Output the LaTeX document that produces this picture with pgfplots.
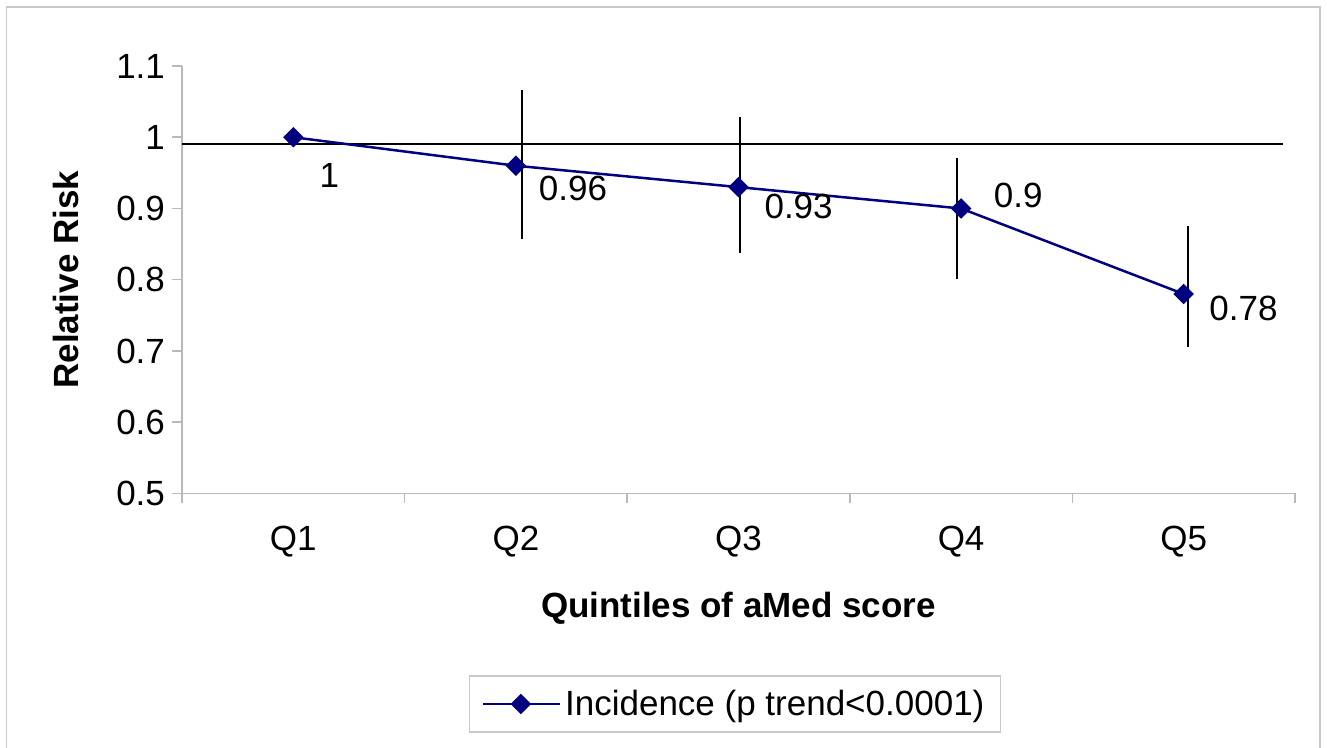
\documentclass[border=0pt]{standalone}
\usepackage{fontspec}
\setmainfont{Liberation Sans}
\usepackage{pgfplots}
\pgfplotsset{compat=1.18}
\usepackage{pgfplotstable}
\definecolor{navy}{RGB}{0,0,128}
\definecolor{framegray}{RGB}{200,200,200}
\definecolor{axisgray}{RGB}{185,185,185}
\newcommand{\chartfont}{\fontsize{17.5}{21}\selectfont}

\pgfplotstableread{
x y lab xs ys
1 1.00 1 12.5 -19
2 0.96 0.96 10.9 -11.25
3 0.93 0.93 12.4 -9.5
4 0.90 0.9 15.75 6.5
5 0.78 0.78 12.25 -7.4
}\rrdata

\begin{document}
\begin{tikzpicture}
\useasboundingbox (0,0) rectangle (663.5pt,374pt);
\draw[framegray, line width=0.75pt] (3.25pt,-5pt) -- (3.25pt,370.5pt) -- (660pt,370.5pt) -- (660pt,-5pt);
\begin{axis}[
  at={(91pt,127.25pt)}, anchor=south west,
  scale only axis, width=556.5pt, height=213.75pt,
  xmin=0.5, xmax=5.5, ymin=0.5, ymax=1.1,
  axis x line=bottom, axis y line=left,
  axis line style={-, axisgray, line width=0.75pt},
  every tick/.style={axisgray, line width=0.75pt},
  tick align=outside, major tick length=5pt,
  xtick={0.5,1.5,2.5,3.5,4.5,5.5}, xticklabels={},
  extra x ticks={1,2,3,4,5}, extra x tick labels={Q1,Q2,Q3,Q4,Q5},
  extra x tick style={major tick length=0pt, xticklabel style={yshift=-13pt}},
  ytick={0.5,0.6,0.7,0.8,0.9,1,1.1},
  yticklabels={0.5,0.6,0.7,0.8,0.9,1,1.1},
  /pgf/number format/assume math mode=true,
  tick label style={font=\chartfont, text=black},
  ylabel={Relative Risk},
  ylabel style={at={(axis description cs:-0.1042,0.5)}, anchor=center, font=\bfseries\chartfont},
  xlabel={Quintiles of aMed score},
  xlabel style={at={(axis description cs:0.5,-0.269)}, anchor=center, font=\bfseries\chartfont},
  legend style={at={(axis description cs:0.4969,-0.4924)}, anchor=center, draw=framegray, line width=0.75pt, inner xsep=6pt, inner ysep=5pt, font=\chartfont},
  legend image code/.code={\draw[mark repeat=2, mark phase=2, #1] plot coordinates {(0pt,0pt) (19pt,0pt) (38.5pt,0pt)};},
  clip=false,
]
\addplot[black, line width=1.1pt, forget plot] coordinates {(0.5,0.991) (5.446,0.991)};
\addplot[navy, line width=1.25pt, mark=square*, mark size=3pt, mark options={rotate=45, solid},
  nodes near coords, point meta=explicit symbolic,
  visualization depends on={\thisrow{xs}\as\xs},
  visualization depends on={\thisrow{ys}\as\ys},
  nodes near coords style={anchor=west, inner sep=0pt, xshift=\xs pt, yshift=\ys pt, text=black, font=\chartfont}]
  table[x=x, y=y, meta=lab] {\rrdata};
\addlegendentry{Incidence (p trend<0.0001)}
\addplot[black, line width=1.1pt, forget plot] coordinates {(2.029,0.857) (2.029,1.067)};
\addplot[black, line width=1.1pt, forget plot] coordinates {(3.007,0.838) (3.007,1.029)};
\addplot[black, line width=1.1pt, forget plot] coordinates {(3.983,0.801) (3.983,0.971)};
\addplot[black, line width=1.1pt, forget plot] coordinates {(5.019,0.705) (5.019,0.875)};
\end{axis}
\end{tikzpicture}
\end{document}
